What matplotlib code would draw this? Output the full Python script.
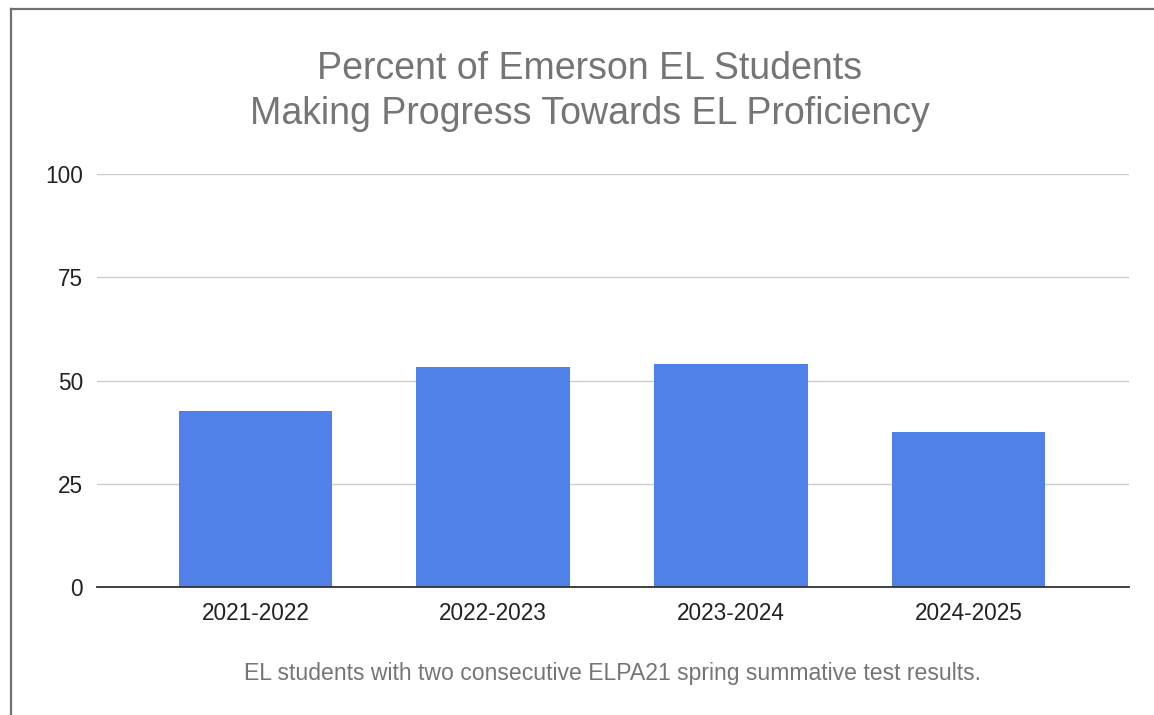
import matplotlib
matplotlib.use("Agg")
import matplotlib.pyplot as plt
from matplotlib.lines import Line2D

categories = ["2021-2022", "2022-2023", "2023-2024", "2024-2025"]
values = [42.5, 53.3, 53.9, 37.5]
yticks = [0, 25, 50, 75, 100]
title_lines = ["Percent of Emerson EL Students", "Making Progress Towards EL Proficiency"]
footnote = "EL students with two consecutive ELPA21 spring summative test results."

plt.rcParams['font.family'] = ['Liberation Sans', 'DejaVu Sans']

W, H = 1154, 715
fig = plt.figure(figsize=(W / 100, H / 100), dpi=100)
fig.patch.set_facecolor("white")

ax = fig.add_axes([97 / W, 1 - 587 / H, (1129 - 97) / W, (587 - 174) / H])
x = list(range(len(categories)))
ax.bar(x, values, width=0.645, color="#4f81e9", zorder=3)
ax.set_xlim(-0.666, 3.674)
ax.set_ylim(0, 100)
ax.set_yticks(yticks)
ax.set_yticklabels([str(v) for v in yticks])
ax.set_xticks(x)
ax.set_xticklabels(categories)
ax.grid(axis="y", color="#cccccc", linewidth=1.0, zorder=0)
for s in ["top", "right", "left"]:
    ax.spines[s].set_visible(False)
ax.spines["bottom"].set_color("#333333")
ax.spines["bottom"].set_linewidth(1.3)
ax.spines["bottom"].set_zorder(4)
ax.tick_params(axis="both", length=0, labelsize=16.3, colors="#222222")
ax.tick_params(axis="y", pad=10)
ax.tick_params(axis="x", pad=11)

fig.text(590 / W, 1 - 79 / H, title_lines[0], ha="center", va="baseline",
         fontsize=27, color="#757575")
fig.text(590 / W, 1 - 124 / H, title_lines[1], ha="center", va="baseline",
         fontsize=27, color="#757575")
fig.text(612 / W, 1 - 680 / H, footnote, ha="center", va="baseline",
         fontsize=16.6, color="#757575")

# outer frame (left and top edges visible)
fig.add_artist(Line2D([11 / W, 11 / W], [0, 1 - 9 / H], transform=fig.transFigure,
                      color="#707070", linewidth=1.6))
fig.add_artist(Line2D([11 / W, 1], [1 - 9 / H, 1 - 9 / H], transform=fig.transFigure,
                      color="#707070", linewidth=1.6))

fig.savefig("out.png", dpi=100, facecolor="white")
